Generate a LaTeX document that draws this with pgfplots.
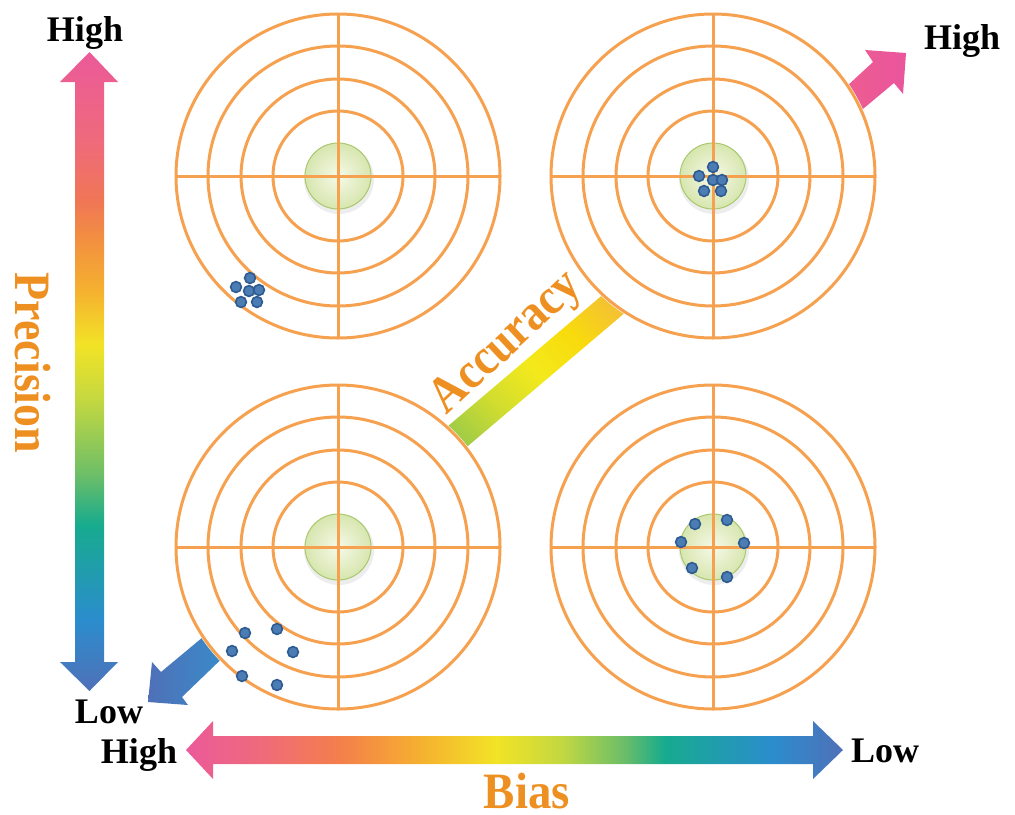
\documentclass[border=0pt]{standalone}
\usepackage{pgfplots}
\pgfplotsset{compat=1.18}
\usepackage{fontspec}
\setmainfont{Liberation Serif}

% colours
\definecolor{ringc}{RGB}{246,161,79}
\definecolor{discin}{HTML}{F6F9E8}
\definecolor{discout}{HTML}{D7E6AF}
\definecolor{discedge}{HTML}{AAC86E}
\definecolor{dotedge}{HTML}{2D5A91}
\definecolor{dotfill}{HTML}{4B7DB4}
\definecolor{gold}{HTML}{EE9021}
\definecolor{pk}{HTML}{EB5A9A}
\definecolor{pk2}{HTML}{EF6A7C}
\definecolor{orA}{HTML}{F07656}
\definecolor{orB}{HTML}{F29040}
\definecolor{orC}{HTML}{F5B030}
\definecolor{orD}{HTML}{F47F4B}
\definecolor{ye}{HTML}{F2E326}
\definecolor{yg}{HTML}{C4D840}
\definecolor{gr}{HTML}{6CBE68}
\definecolor{tl}{HTML}{17AB8E}
\definecolor{bl}{HTML}{2B8DCD}
\definecolor{bp}{HTML}{5070B8}
\definecolor{agr}{HTML}{9DCB48}
\definecolor{ayg}{HTML}{CFDC30}
\definecolor{aye}{HTML}{F3E91C}
\definecolor{agd}{HTML}{F8DB0C}
\definecolor{aor}{HTML}{F4C232}
\definecolor{pkL}{HTML}{EE5F8C}
\definecolor{pkR}{HTML}{EA559D}
\definecolor{blL}{HTML}{4F70B8}
\definecolor{blR}{HTML}{3590CC}

\pgfdeclareverticalshading{precgrad}{100bp}{color(0bp)=(bp); color(25bp)=(bp);
  color(30.6bp)=(bl); color(38bp)=(tl); color(41.9bp)=(gr); color(47.8bp)=(yg);
  color(52.1bp)=(ye); color(56.4bp)=(orC); color(60.3bp)=(orB); color(63.4bp)=(orA);
  color(68.1bp)=(pk2); color(75bp)=(pk); color(100bp)=(pk)}
\pgfdeclarehorizontalshading{biasgrad}{100bp}{color(0bp)=(pk); color(25bp)=(pk);
  color(30.6bp)=(pk2); color(36.7bp)=(orD); color(42.8bp)=(orC); color(48.6bp)=(ye);
  color(53.5bp)=(yg); color(58.3bp)=(gr); color(61.4bp)=(tl); color(69.6bp)=(bl);
  color(75bp)=(bp); color(100bp)=(bp)}
\pgfdeclarehorizontalshading{accgrad}{100bp}{color(0bp)=(agr); color(22.8bp)=(agr);
  color(36bp)=(ayg); color(50bp)=(aye); color(64bp)=(agd); color(77bp)=(aor);
  color(100bp)=(aor)}

\tikzset{ring/.style={draw=ringc, line width=1.5pt}}

% cx cy left right top bottom
\newcommand{\target}[6]{%
  \fill[white] (#1,#2) circle[radius=164];
  \draw[ring] (#1,#2) circle[radius=162];
  \draw[ring] (#1,#2) circle[radius=130];
  \draw[ring] (#1,#2) circle[radius=97];
  \draw[ring] (#1,#2) circle[radius=65];
  \fill[black, opacity=0.07] (#1+1,#2+3) circle[radius=35];
  \shade[inner color=discin, outer color=discout] (#1,#2) circle[radius=33];
  \draw[discedge, line width=0.5pt] (#1,#2) circle[radius=33];
  \draw[ring] (#3,#2) -- (#4,#2);
  \draw[ring] (#1,#5) -- (#1,#6);
}

\newcommand{\hlfont}{\bfseries\fontsize{18pt}{20pt}\selectfont}
\newcommand{\wordfont}{\bfseries\fontsize{25.5pt}{28pt}\selectfont}

\begin{document}
\begin{tikzpicture}
\begin{axis}[
  scale only axis, width=507.5pt, height=407pt,
  xmin=0, xmax=1015, ymin=0, ymax=814, y dir=reverse,
  axis lines=none, ticks=none, clip=false,
]
% precision and bias arrows
\shade[shading=precgrad] (89.5,52) -- (118,82) -- (104,82) -- (104,662) -- (118,662)
  -- (89.5,691) -- (60,662) -- (75,662) -- (75,82) -- (60,82) -- cycle;
\shade[shading=biasgrad] (186,750) -- (213,721) -- (213,736) -- (813,736) -- (813,721)
  -- (843,750) -- (813,779) -- (813,764) -- (213,764) -- (213,779) -- cycle;
% accuracy band and the two diagonal arrows
\shade[shading=accgrad, shading angle=45] (433.7,438.2) -- (616.1,283.4)
  -- (634.3,304.8) -- (451.9,459.6) -- cycle;
\shade[left color=pkL, right color=pkR] (828.6,103) -- (873,62) -- (865,50) -- (906,53)
  -- (903,94) -- (894,83) -- (842.6,126) -- cycle;
\shade[left color=blL, right color=blR] (221,622) -- (161,672) -- (152,662) -- (148,702)
  -- (188,705) -- (182,697) -- (237,644) -- cycle;

% targets
\target{338}{176}{176}{500}{14}{338}
\target{713}{176}{551}{875}{14}{338}
\target{338}{547}{176}{500}{385}{709}
\target{713}{547}{551}{875}{385}{709}

% shots
\addplot[only marks, mark=*, mark size=2.7pt,
  mark options={draw=dotedge, fill=dotfill, line width=0.8pt}] coordinates {
  (250,278) (236,287) (249,291) (259,290) (241,302) (257,302)
  (713,167) (699,176) (713,180) (722,180) (704,191) (721,191)
  (245,633) (277,629) (232,651) (293,652) (242,676) (277,685)
  (695,524) (727,520) (681,542) (744,543) (692,568) (727,577)
};

% labels
\node[font=\hlfont, anchor=base] at (85,41.5) {High};
\node[font=\hlfont, anchor=base] at (962,49) {High};
\node[font=\hlfont, anchor=base] at (109,723) {Low};
\node[font=\hlfont, anchor=base] at (139,763) {High};
\node[font=\hlfont, anchor=base] at (885,762) {Low};
\node[font=\wordfont, text=gold, anchor=base, inner sep=0pt, rotate=-90, xscale=0.9] at (15,363) {Precision};
\node[font=\wordfont, text=gold, anchor=base, inner sep=0pt, xscale=0.92] at (527,808) {Bias};
\node[font=\wordfont, text=gold, anchor=base, inner sep=0pt, rotate=43, xscale=0.9] at (515,352) {Accuracy};
\end{axis}
\pgfresetboundingbox
\path[use as bounding box] (0,0) rectangle (507.5pt,407pt);
\end{tikzpicture}
\end{document}
